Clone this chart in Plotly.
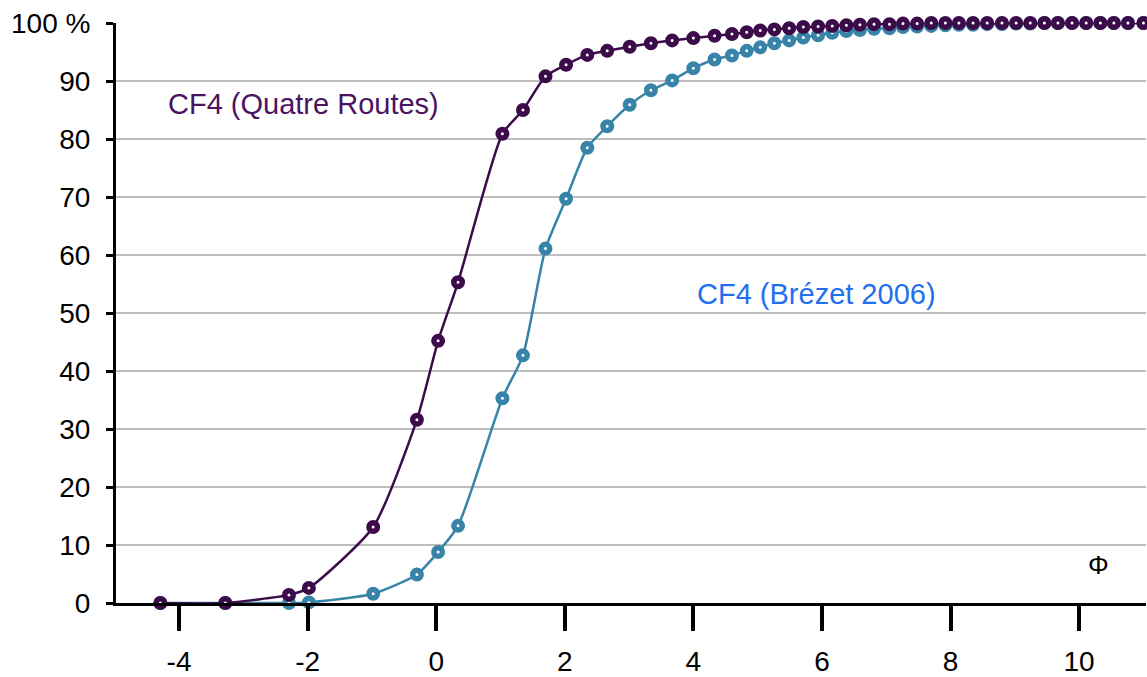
import plotly.graph_objects as go

phi = [-4.29, -3.28, -2.29, -1.98, -0.98, -0.30, 0.03, 0.34, 1.03, 1.35, 1.70, 2.02,
       2.35, 2.66, 3.01, 3.34, 3.67, 4.00, 4.33, 4.60, 4.83, 5.04, 5.26, 5.49, 5.71,
       5.94, 6.16, 6.38, 6.59, 6.81, 7.05, 7.26, 7.48, 7.70, 7.92, 8.13, 8.35, 8.57,
       8.80, 9.02, 9.24, 9.46, 9.67, 9.89, 10.11, 10.33, 10.54, 10.76, 11.00]

quatre_routes = [0, 0, 1.4, 2.6, 13.1, 31.6, 45.2, 55.3, 80.9, 85.0, 90.8, 92.8,
                 94.5, 95.2, 95.9, 96.5, 97.0, 97.4, 97.8, 98.1, 98.4, 98.7, 98.9, 99.1, 99.3,
                 99.4, 99.5, 99.6, 99.7, 99.8, 99.8, 99.9, 99.9, 100, 100, 100, 100, 100,
                 100, 100, 100, 100, 100, 100, 100, 100, 100, 100, 100]

brezet_2006 = [0, 0, 0, 0.1, 1.6, 4.9, 8.8, 13.3, 35.3, 42.7, 61.1, 69.7,
               78.5, 82.2, 85.9, 88.4, 90.1, 92.2, 93.7, 94.4, 95.2, 95.8, 96.5, 97.0, 97.5,
               97.9, 98.3, 98.6, 98.8, 99.0, 99.1, 99.3, 99.4, 99.5, 99.6, 99.7, 99.7, 99.8,
               99.8, 99.9, 99.9, 100, 100, 100, 100, 100, 100, 100, 100]

y_ticks = [0, 10, 20, 30, 40, 50, 60, 70, 80, 90, 100]
y_labels = ["0", "10", "20", "30", "40", "50", "60", "70", "80", "90", "100 %"]
x_ticks = [-4, -2, 0, 2, 4, 6, 8, 10]

PURPLE = "#3c0b4a"
TEAL = "#3884a8"
FONT = "Liberation Sans, Arial, Helvetica, sans-serif"

fig = go.Figure()

fig.add_trace(go.Scatter(
    x=phi, y=brezet_2006, mode="lines+markers", name="CF4 (Brézet 2006)",
    line=dict(color=TEAL, width=2.5, shape="spline", smoothing=0.6),
    marker=dict(symbol="circle", size=8.5, color="white", line=dict(color=TEAL, width=5.5)),
    cliponaxis=False,
))
fig.add_trace(go.Scatter(
    x=phi, y=quatre_routes, mode="lines+markers", name="CF4 (Quatre Routes)",
    line=dict(color=PURPLE, width=2.5, shape="spline", smoothing=0.6),
    marker=dict(symbol="circle", size=8.5, color="white", line=dict(color=PURPLE, width=5.5)),
    cliponaxis=False,
))

fig.add_annotation(x=-2.07, y=86.0, text="CF4 (Quatre Routes)", showarrow=False,
                   font=dict(family=FONT, size=29, color="#4b1462"))
fig.add_annotation(x=5.91, y=53.3, text="CF4 (Brézet 2006)", showarrow=False,
                   font=dict(family=FONT, size=29, color="#1f6fef"))
fig.add_annotation(x=10.3, y=6.6, text="Φ", showarrow=False,
                   font=dict(family=FONT, size=26, color="black"))

fig.update_layout(
    width=1147, height=677,
    margin=dict(l=116, r=1, t=23, b=74, autoexpand=False),
    paper_bgcolor="white", plot_bgcolor="white",
    showlegend=False,
    font=dict(family=FONT, size=27, color="black"),
    xaxis=dict(
        range=[-4.98, 11.04], tickvals=x_ticks, ticktext=[str(v) for v in x_ticks],
        showgrid=False, zeroline=False, showline=True, linecolor="black", linewidth=2.5,
        ticks="outside", ticklen=25, tickwidth=4, tickcolor="black", automargin=False,
        ticklabelstandoff=7, tickfont=dict(family=FONT, size=28, color="black"),
    ),
    yaxis=dict(
        range=[0, 100], tickvals=y_ticks, ticktext=y_labels,
        showgrid=True, gridcolor="#bebebe", gridwidth=2, zeroline=False,
        showline=True, linecolor="black", linewidth=3, automargin=False,
        ticks="outside", ticklen=7, tickwidth=2.5, tickcolor="black",
        ticklabelstandoff=10, tickfont=dict(family=FONT, size=28, color="black"),
    ),
)

fig.write_html(
    "out.html",
    config={"displayModeBar": False},
    post_script="document.body.style.margin='0';document.body.style.padding='0';"
                "document.documentElement.style.overflow='hidden';",
)
